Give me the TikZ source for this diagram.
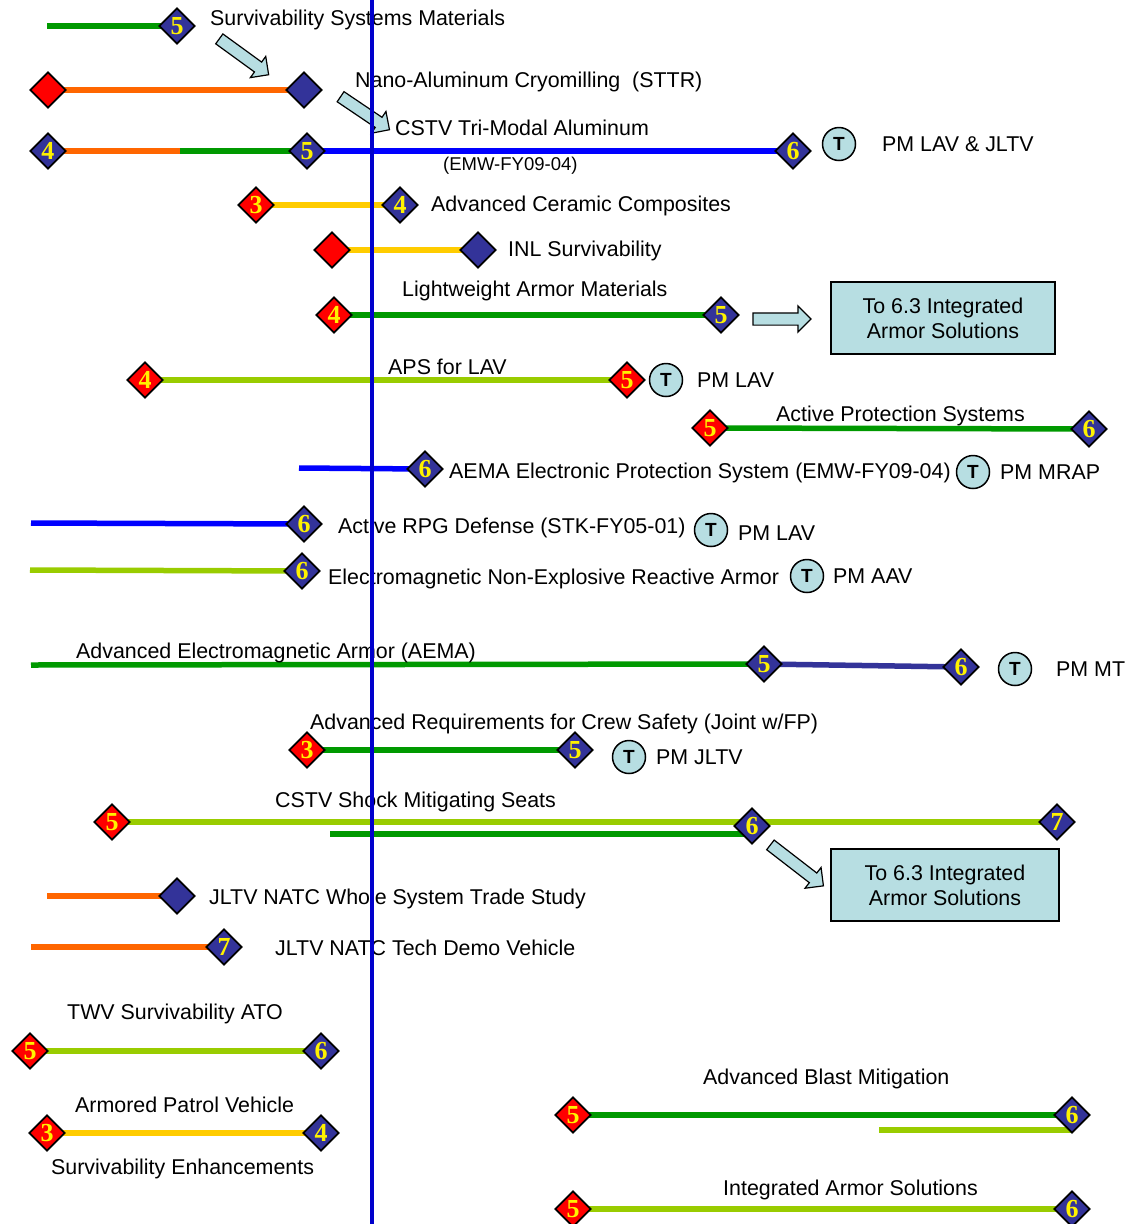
\documentclass[tikz,border=0pt]{standalone}
\usepackage{fontspec}
\setmainfont{Liberation Sans}
\newfontfamily\numfont{Liberation Serif}
\usetikzlibrary{shapes.geometric,shapes.arrows}
\definecolor{lgreen}{RGB}{153,204,0}
\definecolor{dgreen}{RGB}{0,153,0}
\definecolor{orng}{RGB}{255,102,0}
\definecolor{gold}{RGB}{255,204,0}
\definecolor{navy}{RGB}{51,51,153}
\definecolor{tblue}{RGB}{0,0,255}
\definecolor{vblue}{RGB}{0,0,204}
\definecolor{pale}{RGB}{183,222,226}
\pgfdeclarelayer{bars}
\pgfsetlayers{bars,main}
\tikzset{
  bd/.style   ={diamond, draw=black, line width=1.8pt, fill=navy, minimum size=36pt, inner sep=0pt, text=yellow, font=\numfont\bfseries\fontsize{26}{26}\selectfont},
  rd/.style   ={bd, fill=red},
  bar/.style  ={line width=5.5pt},
  lab/.style  ={font=\fontsize{21.4}{24}\selectfont, inner sep=0pt, anchor=west, text height=15.5pt, text depth=4.5pt},
  labs/.style ={font=\fontsize{18.5}{20}\selectfont, inner sep=0pt, anchor=west, text height=13.5pt, text depth=4pt},
  tc/.style   ={circle, draw=black, line width=1.5pt, fill=pale, minimum size=33pt, inner sep=0pt, font=\bfseries\fontsize{19}{19}\selectfont},
  tobox/.style={draw=black, line width=2pt, fill=pale, align=center, font=\fontsize{21.4}{25}\selectfont, minimum width=224pt, minimum height=72pt},
  blk/.style  ={single arrow, draw=black, line width=1.2pt, fill=pale, inner sep=5.5pt, single arrow head extend=7pt},
}

\begin{document}
\begin{tikzpicture}[x=1pt,y=-1pt]
  \useasboundingbox (0,0) rectangle (1130,1224);
  % row 1-3
  \coordinate (s1) at (47,26);
  \node[bd] (d1) at (177,26) {5};
  \node[lab] (l1) at (210,20) {Survivability Systems Materials};
  \node[blk, minimum height=61pt, rotate=-36] (a1) at (241.5,55) {};
  \node[rd] (d2a) at (48,90) {};
  \node[bd] (d2b) at (304,90) {};
  \node[lab] (l2) at (355,82) {Nano-Aluminum Cryomilling \ (STTR)};
  \node[blk, minimum height=59pt, rotate=-34] (a2) at (362.5,111.5) {};
  \node[bd] (d3a) at (48,151) {4};
  \coordinate (m3) at (180,151);
  \node[bd] (d3b) at (307,151) {5};
  \node[bd] (d3c) at (793,151) {6};
  \node[lab] (l3) at (395,130) {CSTV Tri-Modal Aluminum};
  \node[labs] (l3s) at (443,166) {(EMW-FY09-04)};
  \node[tc] (t3) at (839,144) {T};
  \node[lab] (p3) at (882,146) {PM LAV \& JLTV};
  % row 4-8
  \node[rd] (d4a) at (256,205) {3};
  \node[bd] (d4b) at (400,205) {4};
  \node[lab] (l4) at (431,206) {Advanced Ceramic Composites};
  \node[rd] (d5a) at (332,250) {};
  \node[bd] (d5b) at (478,250) {};
  \node[lab] (l5) at (508,251) {INL Survivability};
  \node[rd] (d6a) at (334,315) {4};
  \node[bd] (d6b) at (721,315) {5};
  \node[lab] (l6) at (402,291) {Lightweight Armor Materials};
  \node[blk, minimum height=58pt] (a6) at (779,319) {};
  \node[tobox] (b6) at (943,318) {To 6.3 Integrated\\Armor Solutions};
  \node[rd] (d7a) at (145,380) {4};
  \node[rd] (d7b) at (627,380) {5};
  \node[lab] (l7) at (388,369) {APS for LAV};
  \node[tc] (t7) at (666,380) {T};
  \node[lab] (p7) at (697,382) {PM LAV};
  \node[rd] (d8a) at (710,428) {5};
  \node[bd] (d8b) at (1089,429) {6};
  \node[lab] (l8) at (776,416) {Active Protection Systems};
  % row 9-13
  \coordinate (s9) at (299,468);
  \node[bd] (d9) at (425,469) {6};
  \node[lab] (l9) at (449,473) {AEMA Electronic Protection System (EMW-FY09-04)};
  \node[tc] (t9) at (973,472) {T};
  \node[lab] (p9) at (1000,474) {PM MRAP};
  \coordinate (s10) at (31,523);
  \node[bd] (d10) at (304,524) {6};
  \node[lab] (l10) at (338,528) {Active RPG Defense (STK-FY05-01)};
  \node[tc] (t10) at (711,530) {T};
  \node[lab] (p10) at (738,535) {PM LAV};
  \coordinate (s11) at (30,570);
  \node[bd] (d11) at (302,571) {6};
  \node[lab] (l11) at (328,579) {Electromagnetic Non-Explosive Reactive Armor};
  \node[tc] (t11) at (807,576) {T};
  \node[lab] (p11) at (833,578) {PM AAV};
  \coordinate (s12) at (31,665);
  \node[bd] (d12a) at (764,664) {5};
  \node[bd] (d12b) at (961,667) {6};
  \node[lab] (l12) at (76,653) {Advanced Electromagnetic Armor (AEMA)};
  \node[tc] (t12) at (1015,669) {T};
  \node[lab] (p12) at (1056,671) {PM MT};
  \node[rd] (d13a) at (307,750) {3};
  \node[bd] (d13b) at (575,750) {5};
  \node[lab] (l13) at (310,724) {Advanced Requirements for Crew Safety (Joint w/FP)};
  \node[tc] (t13) at (629,757) {T};
  \node[lab] (p13) at (656,759) {PM JLTV};
  % row 14-16
  \node[rd] (d14a) at (112,822) {5};
  \node[bd] (d14b) at (752,826) {6};
  \node[bd] (d14c) at (1057,822) {7};
  \coordinate (s14) at (330,834);
  \node[lab] (l14) at (275,802) {CSTV Shock Mitigating Seats};
  \node[blk, minimum height=67pt, rotate=-37.7] (a14) at (794.5,863.5) {};
  \node[tobox, minimum width=228pt] (b14) at (945,885) {To 6.3 Integrated\\Armor Solutions};
  \coordinate (s15) at (47,896);
  \node[bd] (d15) at (177,896) {};
  \node[lab] (l15) at (209,899) {JLTV NATC Whole System Trade Study};
  \coordinate (s16) at (31,947);
  \node[bd] (d16) at (224,947) {7};
  \node[lab] (l16) at (275,950) {JLTV NATC Tech Demo Vehicle};
  % row 17-20
  \node[lab] (l17) at (67,1014) {TWV Survivability ATO};
  \node[rd] (d17a) at (30,1051) {5};
  \node[bd] (d17b) at (321,1051) {6};
  \node[lab] (l18) at (75,1107) {Armored Patrol Vehicle};
  \node[rd] (d18a) at (47,1133) {3};
  \node[bd] (d18b) at (321,1133) {4};
  \node[lab] (l18s) at (51,1169) {Survivability Enhancements};
  \node[lab] (l19) at (703,1079) {Advanced Blast Mitigation};
  \node[rd] (d19a) at (573,1115) {5};
  \node[bd] (d19b) at (1072,1115) {6};
  \coordinate (s19) at (879,1130);
  \node[lab] (l20) at (723,1190) {Integrated Armor Solutions};
  \node[rd] (d20a) at (573,1209) {5};
  \node[bd] (d20b) at (1072,1209) {6};
  \begin{pgfonlayer}{bars}
    \draw[bar, dgreen] (s1) -- (d1.center);
    \draw[bar, orng] (d2a.center) -- (d2b.center);
    \draw[bar, orng] (d3a.center) -- (m3);
    \draw[bar, dgreen] (m3) -- (d3b.center);
    \draw[bar, tblue] (d3b.center) -- (d3c.center);
    \draw[bar, gold] (d4a.center) -- (d4b.center);
    \draw[bar, gold] (d5a.center) -- (d5b.center);
    \draw[bar, dgreen] (d6a.center) -- (d6b.center);
    \draw[bar, lgreen] (d7a.center) -- (d7b.center);
    \draw[bar, dgreen] (d8a.center) -- (d8b.center);
    \draw[bar, tblue] (s9) -- (d9.center);
    \draw[bar, tblue] (s10) -- (d10.center);
    \draw[bar, lgreen] (s11) -- (d11.center);
    \draw[bar, dgreen] (s12) -- (d12a.center);
    \draw[bar, navy] (d12a.center) -- (d12b.center);
    \draw[bar, dgreen] (d13a.center) -- (d13b.center);
    \draw[bar, lgreen] (d14a.center) -- (d14c.center);
    \draw[bar, dgreen] (s14) -- (s14 -| d14b.center);
    \draw[bar, orng] (s15) -- (d15.center);
    \draw[bar, orng] (s16) -- (d16.center);
    \draw[bar, lgreen] (d17a.center) -- (d17b.center);
    \draw[bar, gold] (d18a.center) -- (d18b.center);
    \draw[bar, dgreen] (d19a.center) -- (d19b.center);
    \draw[bar, lgreen] (s19) -- (s19 -| d19b.center);
    \draw[bar, lgreen] (d20a.center) -- (d20b.center);
  \end{pgfonlayer}
  \coordinate (vt) at (372,0);
  \coordinate (vb) at (372,1224);
  \draw[vblue, line width=4pt] (vt) -- (vb);
\end{tikzpicture}
\end{document}
